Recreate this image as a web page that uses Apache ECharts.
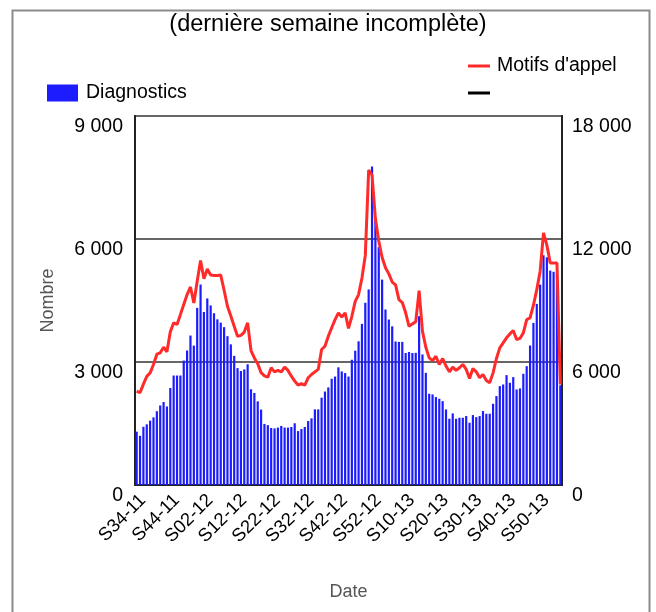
<!DOCTYPE html>
<html>
<head>
<meta charset="utf-8">
<script src="https://cdn.jsdelivr.net/npm/echarts@6/dist/echarts.min.js"></script>
<style>
html,body{margin:0;padding:0;background:#fff;}
#chart{width:656px;height:612px;}
</style>
</head>
<body>
<div id="chart"></div>
<script>
// Weekly categories: S34-11 ... S04-14
const startWeek = 34, startYear = 11, nWeeks = 127;
const weeks = [];
(function(){ let w = startWeek, y = startYear; for (let k = 0; k < nWeeks; k++) { weeks.push('S' + String(w).padStart(2,'0') + '-' + y); w++; if (w > 52) { w = 1; y++; } } })();

// Diagnostics (left axis)
const diagnostics = [
 1300,1200,1420,1480,1570,1650,1800,1940,2025,1915,
 2365,2670,2670,2670,3035,3280,3645,3400,4320,4890,
 4220,4550,4380,4190,4040,3960,3850,3630,3430,3150,
 2850,2780,2820,2945,2335,2245,2040,1840,1490,1460,
 1390,1380,1400,1440,1400,1400,1415,1505,1315,1365,
 1415,1560,1625,1845,1845,2130,2280,2380,2590,2645,
 2870,2770,2730,2645,3055,3275,3505,3930,4445,4770,
 7770,6500,5800,5010,4280,4035,3870,3500,3490,3490,
 3220,3245,3220,3224,4117,3183,2736,2225,2209,2144,
 2103,2046,1843,1616,1746,1616,1640,1640,1681,1518,
 1705,1656,1681,1803,1738,1738,1981,2168,2412,2452,
 2680,2493,2631,2330,2355,2712,2899,3402,3954,4417,
 4888,5603,5554,5229,5200,5150,2433
];

// Motifs d'appel (right axis)
const motifs = [
 4580,4500,4920,5300,5470,5880,6380,6450,6720,6500,
 7470,7910,7830,8310,8800,9290,9660,8880,9940,10950,
 10060,10540,10240,10220,10220,10240,9500,8720,8240,7740,
 7260,7300,7460,7910,6560,6200,5920,5480,5320,5260,
 5720,5520,5590,5520,5750,5590,5310,5070,4870,4940,
 4870,5230,5390,5520,5640,6610,6770,7260,7670,8070,
 8400,8190,8400,7640,8230,8960,9290,10100,11200,15360,
 15120,13000,11900,11100,10600,10300,9900,9760,9040,8900,
 8400,7740,7860,7960,9480,7500,6720,6200,6070,6280,
 5880,6170,5800,5520,5750,5590,5720,5880,5640,5200,
 5680,5520,5230,5390,5100,4990,5470,6170,6690,6930,
 7180,7370,7540,7100,7150,7420,8070,8150,8770,9530,
 10430,12300,11700,10830,10830,10830,4900
];

const blackSeries = [];

const yLeftTicks = [0, 3000, 6000, 9000];
const yRightTicks = [0, 6000, 12000, 18000];

const FONT = "'Liberation Sans', Arial, sans-serif";
function fmt(v){ return String(v).replace(/\B(?=(\d{3})+(?!\d))/g, ' '); }

const chart = echarts.init(document.getElementById('chart'), null, {renderer:'canvas'});
chart.setOption({
  animation: false,
  backgroundColor: '#fff',
  title: {
    text: '(dernière semaine incomplète)',
    left: 'center', top: 8,
    textStyle: {fontFamily: FONT, fontSize: 23.5, fontWeight: 'normal', color: '#000'}
  },
  graphic: [{
    type: 'rect', left: 10, top: 8, silent: true,
    shape: {x: 0, y: 0, width: 637, height: 620},
    style: {fill: 'none', stroke: '#8c8c8c', lineWidth: 2}
  }],
  legend: [
    {
      data: [{name: 'Diagnostics', icon: 'rect'}],
      left: 47, top: 83, padding: 0, itemWidth: 31, itemHeight: 17,
      textStyle: {fontFamily: FONT, fontSize: 19.5, color: '#000', padding: [0,0,0,3]},
      selectedMode: false
    },
    {
      data: [{name: "Motifs d'appel", icon: 'rect'}, {name: ' ', icon: 'rect'}],
      orient: 'vertical', left: 468, top: 56, padding: 0, itemWidth: 22, itemHeight: 3, itemGap: 7,
      textStyle: {fontFamily: FONT, fontSize: 19.5, color: '#000', padding: [0,0,0,2]},
      selectedMode: false
    }
  ],
  grid: {left: 135, right: 94, top: 116, bottom: 127, show: true, borderColor: '#222', borderWidth: 2, backgroundColor: 'transparent'},
  xAxis: {
    type: 'category', data: weeks,
    name: 'Date', nameLocation: 'middle', nameGap: 98,
    nameTextStyle: {fontFamily: FONT, fontSize: 18, color: '#555'},
    axisLine: {lineStyle: {color: '#222', width: 2}},
    axisTick: {interval: 9, length: 5, lineStyle: {color: '#222', width: 2}},
    axisLabel: {interval: 9, rotate: 45, fontFamily: FONT, fontSize: 18.5, color: '#000', margin: 6, verticalAlign: 'top', lineHeight: 18}
  },
  yAxis: [
    {
      type: 'value', min: yLeftTicks[0], max: yLeftTicks[3], interval: 3000,
      name: 'Nombre', nameLocation: 'middle', nameGap: 78,
      nameTextStyle: {fontFamily: FONT, fontSize: 18, color: '#555'},
      axisLine: {show: true, lineStyle: {color: '#222', width: 2}},
      axisTick: {show: false},
      splitLine: {show: true, lineStyle: {color: '#666', width: 2}},
      axisLabel: {fontFamily: FONT, fontSize: 19.5, color: '#000', margin: 12, verticalAlign: 'top', padding: [1,0,0,0], formatter: fmt}
    },
    {
      type: 'value', min: yRightTicks[0], max: yRightTicks[3], interval: 6000,
      axisLine: {show: true, lineStyle: {color: '#222', width: 2}},
      axisTick: {show: false},
      splitLine: {show: false},
      axisLabel: {fontFamily: FONT, fontSize: 19.5, color: '#000', margin: 10, verticalAlign: 'top', padding: [1,0,0,0], formatter: fmt}
    }
  ],
  series: [
    {
      name: 'Diagnostics', type: 'bar', data: diagnostics, yAxisIndex: 0,
      barWidth: 2.2, itemStyle: {color: '#1c1cff'}, z: 2
    },
    {
      name: "Motifs d'appel", type: 'line', data: motifs, yAxisIndex: 1,
      symbol: 'none', lineStyle: {color: '#ff2b2b', width: 3}, itemStyle: {color: '#ff2b2b'}, z: 3
    },
    {
      name: ' ', type: 'line', data: blackSeries, yAxisIndex: 1,
      symbol: 'none', lineStyle: {color: '#000', width: 3}, itemStyle: {color: '#000'}
    }
  ]
});
</script>
</body>
</html>
